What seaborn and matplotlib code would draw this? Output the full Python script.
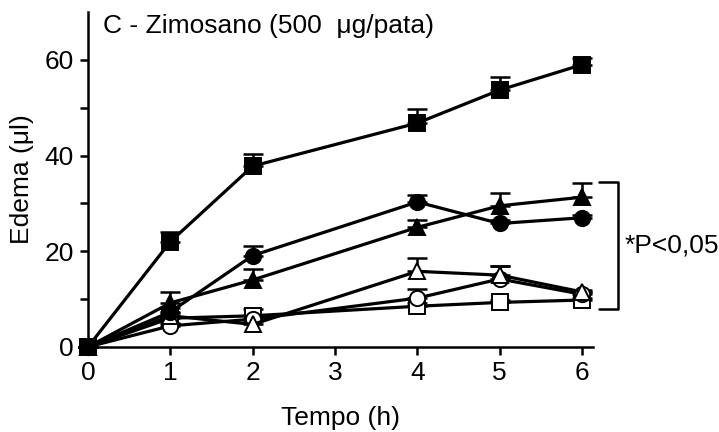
import matplotlib
matplotlib.use("Agg")
import matplotlib.pyplot as plt
import seaborn as sns
import pandas as pd

sns.set_theme(style="ticks")
plt.rcParams['font.family'] = ['Liberation Sans', 'DejaVu Sans']

tempo = [0, 1, 2, 4, 5, 6]

sq_filled = [0, 22.0, 37.8, 46.8, 53.7, 59.0]
sq_filled_err = [0, 2.0, 2.5, 3.0, 2.8, 1.5]
circ_filled = [0, 7.3, 19.1, 30.3, 25.8, 27.0]
circ_filled_err = [0, 0.8, 2.0, 1.5, 0.8, 0.5]
tri_filled = [0, 9.2, 14.0, 25.0, 29.5, 31.3]
tri_filled_err = [0, 2.3, 2.3, 1.6, 2.7, 3.0]
tri_open = [0, 6.5, 4.7, 15.8, 15.0, 11.5]
tri_open_err = [0, 0.5, 0.8, 2.7, 2.0, 0.5]
circ_open = [0, 4.4, 5.8, 10.2, 14.2, 11.0]
circ_open_err = [0, 0.6, 0.8, 2.0, 2.8, 0.5]
sq_open = [0, 6.0, 6.5, 8.5, 9.3, 9.8]
sq_open_err = [0, 0.5, 1.5, 0.6, 0.5, 0.5]

series = [
    ("sq_open", sq_open, sq_open_err, "s", "white"),
    ("circ_open", circ_open, circ_open_err, "o", "white"),
    ("tri_open", tri_open, tri_open_err, "^", "white"),
    ("tri_filled", tri_filled, tri_filled_err, "^", "black"),
    ("circ_filled", circ_filled, circ_filled_err, "o", "black"),
    ("sq_filled", sq_filled, sq_filled_err, "s", "black"),
]

fig = plt.figure(figsize=(7.19, 4.32), dpi=100)
ax = fig.add_axes([0.1224, 0.197, 0.702, 0.775])

for name, vals, errs, mk, fc in series:
    df = pd.DataFrame({"t": tempo, "v": vals})
    ax.errorbar(tempo, vals, yerr=[[0] * len(errs), errs], fmt="none",
                ecolor="black", elinewidth=1.8, capsize=7, capthick=1.8,
                zorder=2, clip_on=False)
    sns.lineplot(data=df, x="t", y="v", ax=ax, color="black", linewidth=2.3,
                 marker=mk, markersize=11 if mk != "^" else 12,
                 markerfacecolor=fc, markeredgecolor="black",
                 markeredgewidth=1.4, zorder=3, clip_on=False)

ax.set_xlim(0, 6.13)
ax.set_ylim(0, 70)
ax.set_xticks([0, 1, 2, 3, 4, 5, 6])
ax.set_yticks([0, 20, 40, 60])
ax.set_yticks([10, 30, 50], minor=True)

for s in ["top", "right"]:
    ax.spines[s].set_visible(False)
for s in ["left", "bottom"]:
    ax.spines[s].set_linewidth(1.8)
    ax.spines[s].set_color("black")

ax.tick_params(axis="both", which="major", length=6, width=1.8,
               labelsize=19, color="black", labelcolor="black", pad=4)
ax.tick_params(axis="y", which="minor", length=6, width=1.8, color="black")

ax.set_xlabel("Tempo (h)", fontsize=19, color="black", labelpad=15)
ax.set_ylabel("Edema (μl)", fontsize=19, color="black", labelpad=8)

ax.text(0.18, 67.0, "C - Zimosano (500  μg/pata)", fontsize=19,
        color="black", va="center", ha="left")

# significance bracket
xb, xl = 6.44, 6.2
ytop, ybot = 34.5, 7.9
ax.plot([xl, xb, xb, xl], [ytop, ytop, ybot, ybot], color="black",
        linewidth=1.8, clip_on=False)
ax.text(6.52, (ytop + ybot) / 2, "*P<0,05", fontsize=19, color="black",
        va="center", ha="left", clip_on=False)

fig.savefig("out.png", dpi=100)
